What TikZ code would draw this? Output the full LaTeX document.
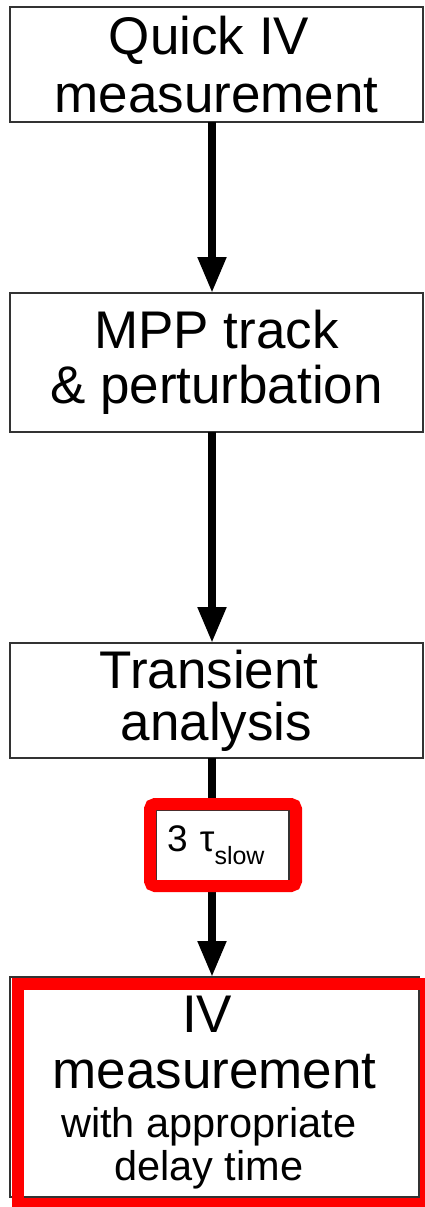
\documentclass[tikz,border=0pt]{standalone}
\usepackage{fontspec}
\setmainfont{Liberation Sans}
\usetikzlibrary{arrows.meta}
\begin{document}
\begin{tikzpicture}[x=1pt,y=-1pt,
  box/.style={draw=black!80, line width=1.2pt, fill=white, inner sep=0pt, outer sep=0pt, align=center},
  flow/.style={line width=8pt, -{Triangle[length=36pt,width=27pt]}},
  link/.style={line width=8pt},
  hilite/.style={draw=red, line width=12pt}]
\useasboundingbox (0,0) rectangle (425,1207);
\fill[white] (0,0) rectangle (425,1207);
\node[box, minimum width=413pt, minimum height=115pt, font=\fontsize{53}{58}\selectfont] (m1) at (216.5,64.5) {Quick IV\kern0.28em\\measurement};
\node[box, minimum width=413pt, minimum height=139pt, font=\fontsize{53}{55}\selectfont] (m2) at (216.5,362.5) {MPP track\\\& perturbation};
\node[box, minimum width=413pt, minimum height=115pt, font=\fontsize{53}{52}\selectfont] (m3) at (216.5,700.5) {Transient\kern0.28em\\analysis};
\node[box, align=left, inner xsep=11pt, inner ysep=0pt, text width=111pt, minimum height=71pt, font=\fontsize{37}{40}\selectfont] (tau) at (222.5,845.5) {3 τ\raisebox{-13pt}{\fontsize{25}{25}\selectfont slow}};
\node[box, minimum width=409pt, minimum height=220pt, font=\fontsize{53}{56}\selectfont] (m4) at (214.5,1087) {\rule{0pt}{47pt}IV\kern0.28em\\measurement\\[-7pt]{\fontsize{41.5}{45}\selectfont with appropriate\kern0.28em}\\[-13pt]{\fontsize{41.5}{45}\selectfont delay time\kern0.28em}};
\draw[flow] ([xshift=-4.5pt]m1.south) -- ([xshift=-4.5pt]m2.north);
\draw[flow] ([xshift=-4.5pt]m2.south) -- ([xshift=-4.5pt]m3.north);
\draw[link] ([xshift=-4.5pt]m3.south) -- ([xshift=-4.5pt]m3.south |- tau.north);
\draw[flow] ([xshift=-10.5pt]tau.south) -- ([xshift=-10.5pt]tau.south |- m4.north);
\draw[hilite, rounded corners=5pt] ([shift={(-6pt,6pt)}]tau.north west) rectangle ([shift={(7pt,-5pt)}]tau.south east);
\draw[hilite] ([shift={(7.5pt,-7pt)}]m4.north west) rectangle ([shift={(6.5pt,-7pt)}]m4.south east);
\end{tikzpicture}
\end{document}
